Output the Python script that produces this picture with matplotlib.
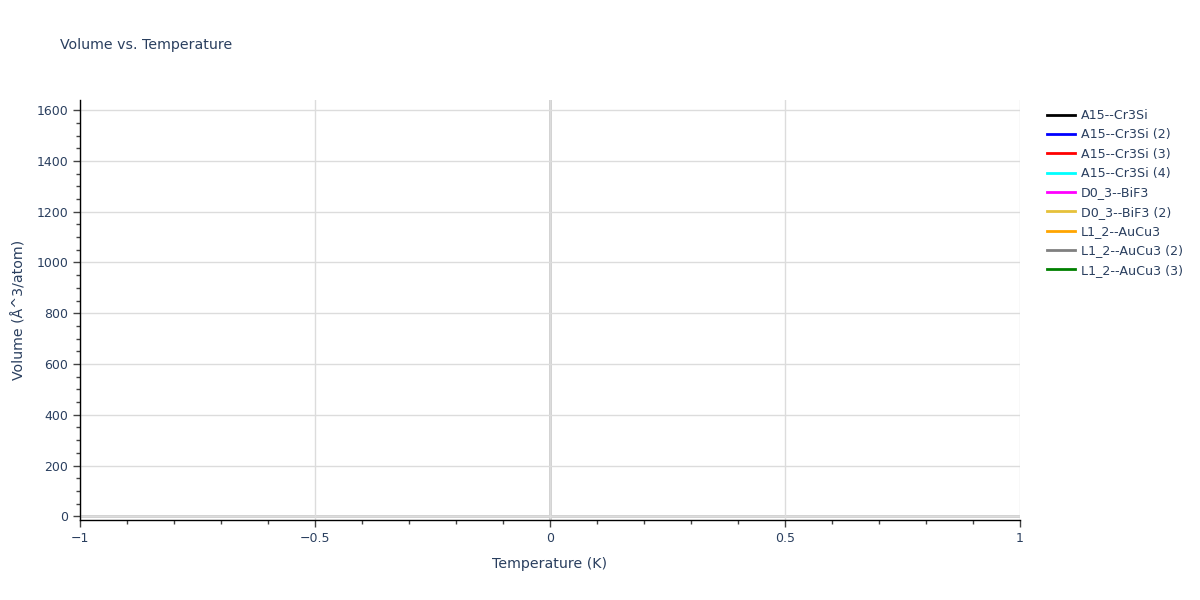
import numpy as np
import matplotlib.pyplot as plt
from matplotlib.ticker import MultipleLocator
from matplotlib.lines import Line2D

# series shown in the legend (no visible points in the chart)
names = ["A15--Cr3Si", "A15--Cr3Si (2)", "A15--Cr3Si (3)", "A15--Cr3Si (4)",
         "D0_3--BiF3", "D0_3--BiF3 (2)", "L1_2--AuCu3", "L1_2--AuCu3 (2)",
         "L1_2--AuCu3 (3)"]
colors = ["black", "blue", "red", "cyan", "magenta", "#e6c13a", "orange",
          "gray", "green"]
temps = [[] for _ in names]
volumes = [[] for _ in names]

xticks = [-1, -0.5, 0, 0.5, 1]
xticklabels = ["\u22121", "\u22120.5", "0", "0.5", "1"]
yticks = [0, 200, 400, 600, 800, 1000, 1200, 1400, 1600]

txt = "#2a3f5f"
plt.rcParams['font.family'] = ['DejaVu Sans']

fig = plt.figure(figsize=(12, 6), dpi=100)
ax = fig.add_axes([80 / 1200, 80 / 600, 940 / 1200, 420 / 600])

for x, y, c, n in zip(temps, volumes, colors, names):
    ax.plot(x, y, color=c, lw=2, label=n)

ax.set_xlim(-1, 1)
ax.set_ylim(-14.6, 1640)
ax.set_xticks(xticks)
ax.set_xticklabels(xticklabels)
ax.set_yticks(yticks)
ax.xaxis.set_minor_locator(MultipleLocator(0.1))
ax.yaxis.set_minor_locator(MultipleLocator(50))

ax.grid(True, which="major", color="#dcdcdc", lw=1)
ax.set_axisbelow(True)
ax.axvline(0, color="#cccccc", lw=2, zorder=0.5)
ax.axhline(0, color="#cccccc", lw=2, zorder=0.5)

for s in ["top", "right"]:
    ax.spines[s].set_visible(False)
for s in ["left", "bottom"]:
    ax.spines[s].set_color("black")
    ax.spines[s].set_linewidth(1)

ax.tick_params(which="major", length=5, width=1, color="#444444",
               labelsize=9, labelcolor=txt, direction="out")
ax.tick_params(which="minor", length=3, width=1, color="#444444",
               direction="out")

ax.set_xlabel("Temperature (K)", fontsize=10.2, color=txt, labelpad=9)
ax.set_ylabel("Volume (Å^3/atom)", fontsize=10.2, color=txt, labelpad=7)
fig.text(60 / 1200, 1 - 45 / 600, "Volume vs. Temperature", fontsize=10.2,
         color=txt, va="center", ha="left")

handles = [Line2D([], [], color=c, lw=2) for c in colors]
fig.legend(handles, names, loc="upper left",
           bbox_to_anchor=(1042 / 1200, 1 - 104 / 600), frameon=False,
           fontsize=9.1, labelcolor=txt, handlelength=2.2,
           handletextpad=0.45, labelspacing=0.5, borderaxespad=0)

fig.savefig("out.png", dpi=100)
